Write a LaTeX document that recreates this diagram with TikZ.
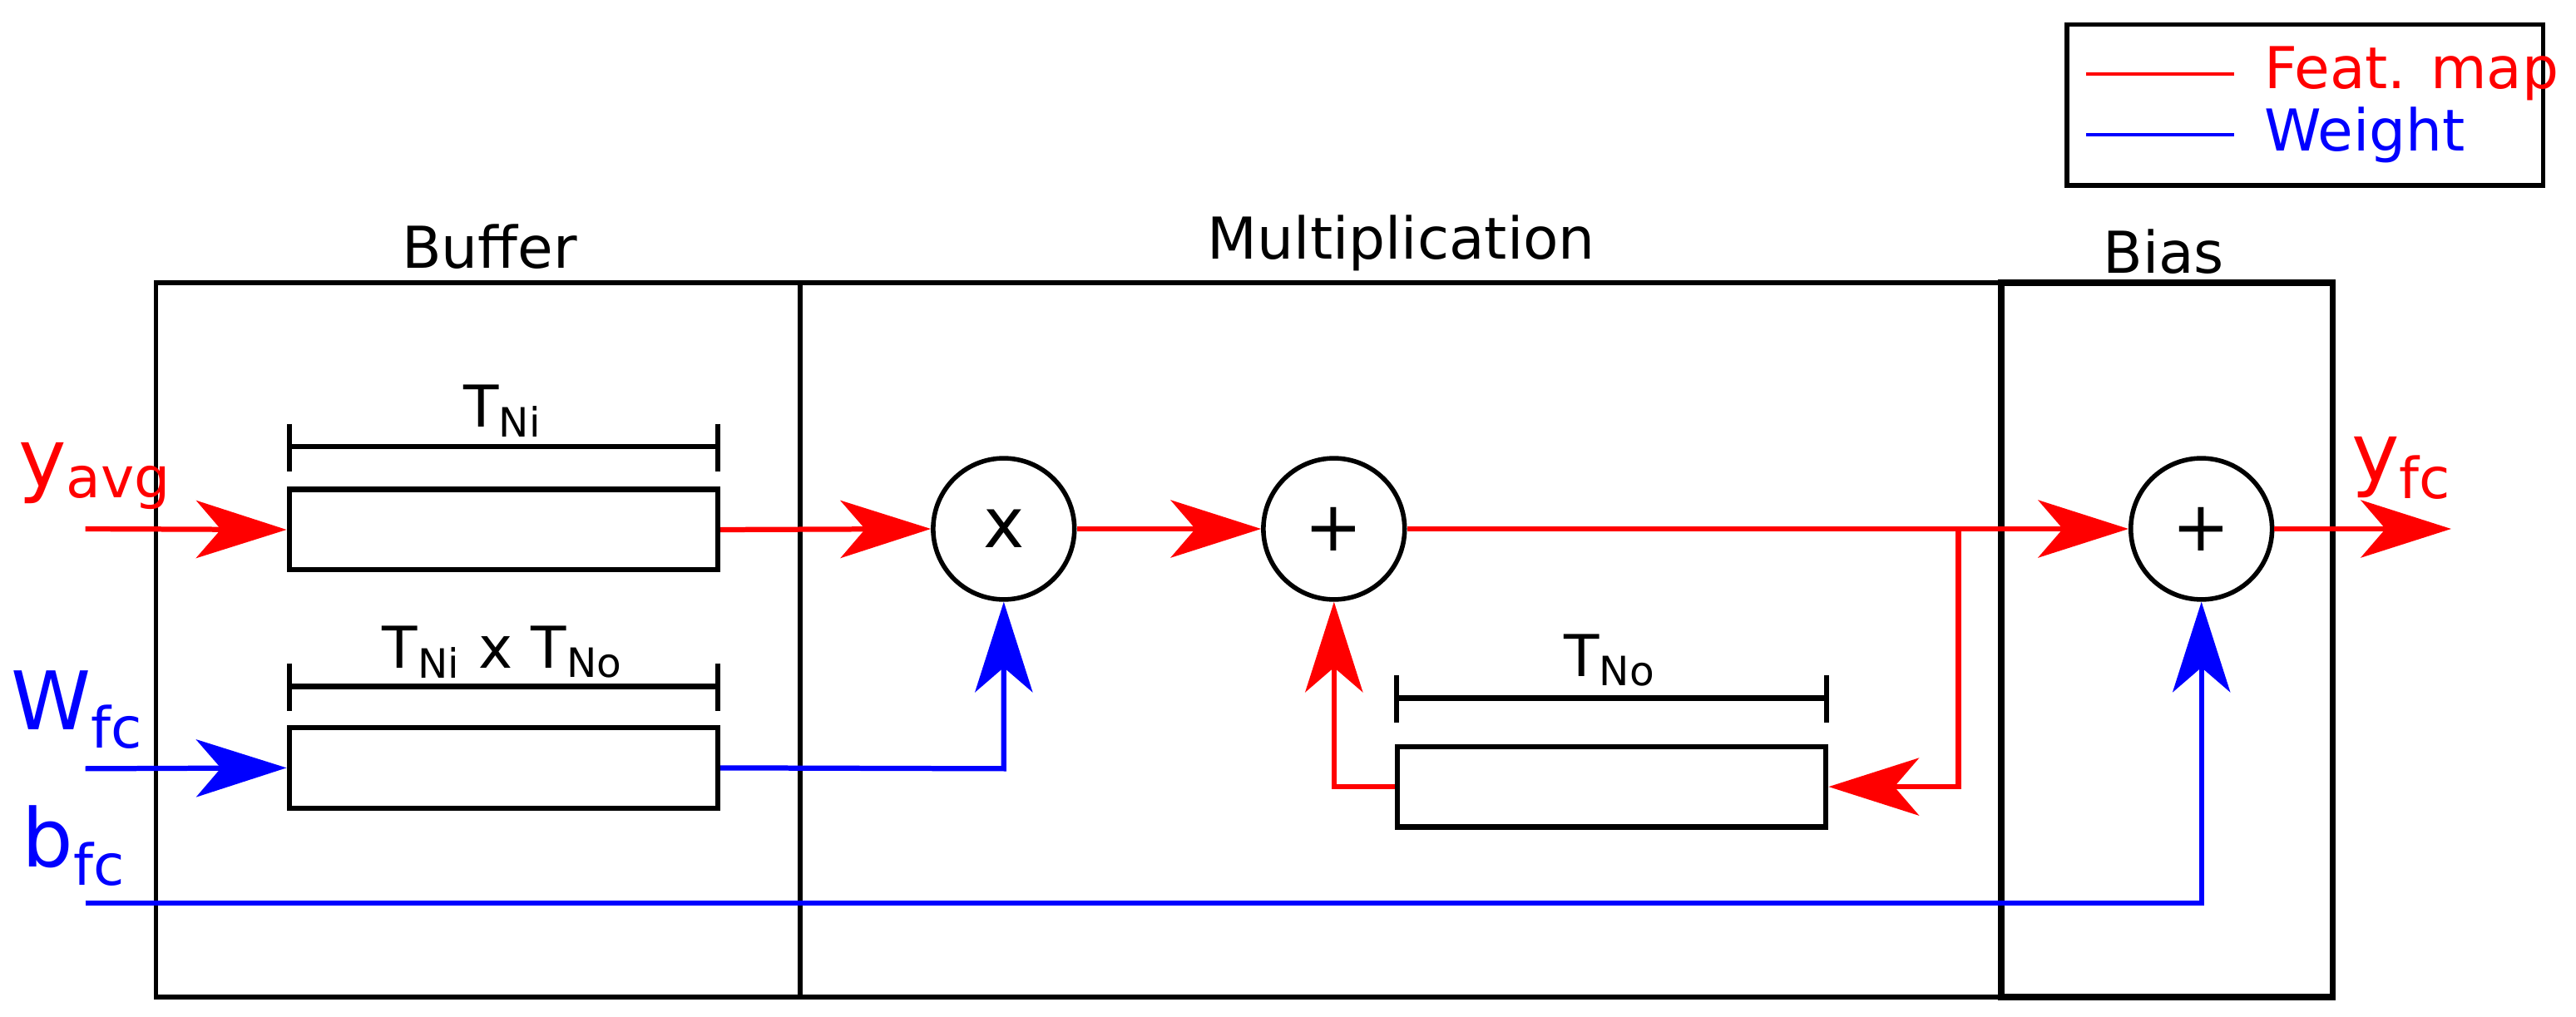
\documentclass[tikz,border=0pt]{standalone}
\usepackage{fontspec}
\setmainfont{DejaVu Sans}
\usetikzlibrary{arrows.meta}
\begin{document}
\begin{tikzpicture}[x=0.02cm,y=-0.02cm,
  box/.style={draw,line width=1.6pt},
  reg/.style={draw,line width=1.8pt,minimum width=5.22cm,minimum height=0.98cm,inner sep=0},
  op/.style={draw,circle,line width=1.6pt,minimum size=1.72cm,inner sep=0,font=\fontsize{24}{28}\selectfont},
  fm/.style={red,line width=1.8pt},
  wt/.style={blue,line width=1.8pt},
  arr/.style={-{Stealth[length=1.1cm,width=0.7cm,inset=0.3cm]}},
  lab/.style={font=\fontsize{20}{24}\selectfont},
  big/.style={font=\fontsize{28}{32}\selectfont},
  dim/.style={line width=1.8pt}]
\useasboundingbox (0,0) rectangle (1568,619);
% legend
\node[box,minimum width=5.8cm,minimum height=1.96cm,inner sep=0] (leg) at (1403,64) {};
\coordinate (l1a) at (1270,45); \coordinate (l1b) at (1360,45);
\coordinate (l2a) at (1270,82); \coordinate (l2b) at (1360,82);
\draw[red,line width=1.2pt] (l1a)--(l1b);
\draw[blue,line width=1.2pt] (l2a)--(l2b);
\node[red,lab,anchor=west] (lf) at (1372,45) {Feat. map};
\node[blue,lab,anchor=west] (lw) at (1372,82) {Weight};
% blocks
\node[box,minimum width=7.84cm,minimum height=8.7cm,inner sep=0] (buf) at (291,389.5) {};
\node[box,minimum width=14.62cm,minimum height=8.7cm,inner sep=0] (mul) at (852.5,389.5) {};
\node[draw,line width=2.2pt,minimum width=4.04cm,minimum height=8.7cm,inner sep=0] (bias) at (1319,389.5) {};
\node[lab] (lbuf) at (298,150) {Buffer};
\node[lab] (lmul) at (853,148) {Multiplication};
\node[lab] (lbias) at (1317,153) {Bias};
% registers
\node[reg] (r1) at (306.5,322.5) {};
\node[reg] (r2) at (306.5,467.5) {};
\node[reg] (r3) at (981,479) {};
% dimension brackets
\draw[dim] (176,258)--(176,287) (437,258)--(437,287) (176,272)--(437,272);
\draw[dim] (176,404)--(176,433) (437,404)--(437,433) (176,418)--(437,418);
\draw[dim] (850,411)--(850,440) (1112,411)--(1112,440) (850,425)--(1112,425);
\node[lab] (t1) at (306,250) {T\textsubscript{Ni}};
\node[lab] (t2) at (306,397) {T\textsubscript{Ni} x T\textsubscript{No}};
\node[lab] (t3) at (980,402) {T\textsubscript{No}};
% operators
\node[op] (mx) at (611,322) {x};
\node[op] (ad) at (812,322) {+};
\node[op] (bs) at (1340,322) {+};
% inputs
\node[red,big] (ya) at (58,290) {y\textsubscript{avg}};
\node[blue,big] (wf) at (47,432) {W\textsubscript{fc}};
\node[blue,big] (bf) at (45,515) {b\textsubscript{fc}};
\node[red,big] (yf) at (1462,285) {y\textsubscript{fc}};
\coordinate (ia) at (52,322); \coordinate (iw) at (52,468); \coordinate (ib) at (52,550);
\coordinate (out) at (1492,322);
\coordinate (sp) at (1192,322); \coordinate (sp2) at (1192,479);
\coordinate (fb) at (812,479);
\coordinate (wc) at (611,468); \coordinate (bc) at (1340,550);
\draw[fm,arr] (ia)--(r1.west);
\draw[wt,arr] (iw)--(r2.west);
\draw[fm,arr] (r1.east)--(mx.west);
\draw[fm,arr] (mx.east)--(ad.west);
\draw[fm,arr] (ad.east)--(bs.west);
\draw[fm,arr] (sp)--(sp2)--(r3.east);
\draw[fm,arr] (r3.west)--(fb)--(ad.south);
\draw[wt,arr] (r2.east)--(wc)--(mx.south);
\draw[wt,arr] (ib)--(bc)--(bs.south);
\draw[fm,arr] (bs.east)--(out);
\end{tikzpicture}
\end{document}
